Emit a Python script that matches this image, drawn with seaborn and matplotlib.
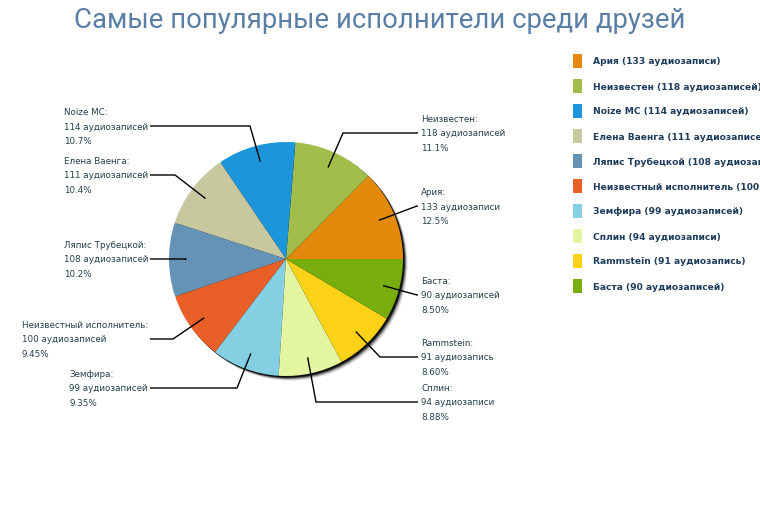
import matplotlib
matplotlib.use("Agg")
import matplotlib.pyplot as plt
from matplotlib.patches import Circle, Rectangle
import numpy as np
import seaborn as sns

sns.set_theme(style="white")
plt.rcParams['font.family'] = ['DejaVu Sans']

# ---- data ----
artists = ["Ария", "Неизвестен", "Noize MC", "Елена Ваенга", "Ляпис Трубецкой",
           "Неизвестный исполнитель", "Земфира", "Сплин", "Rammstein", "Баста"]
counts = [133, 118, 114, 111, 108, 100, 99, 94, 91, 90]
count_words = ["аудиозаписи", "аудиозаписей", "аудиозаписей", "аудиозаписей", "аудиозаписей",
               "аудиозаписей", "аудиозаписей", "аудиозаписи", "аудиозапись", "аудиозаписей"]
pct_labels = ["12.5%", "11.1%", "10.7%", "10.4%", "10.2%", "9.45%", "9.35%", "8.88%", "8.60%", "8.50%"]
colors = ["#E3890B", "#A3BD4B", "#1C95DA", "#C8C8A0", "#6593B5",
          "#E95F28", "#85CFE3", "#E3F5A1", "#FBD218", "#77AD0C"]
title = "Самые популярные исполнители среди друзей"

# ---- layout (pixel space, y measured from top) ----
W, H = 760, 510
def Y(py):
    return H - py

cx, cy, R = 286, 260, 117
label_layout = [
    ("R", 207, 417, 207, 421),   # Ария
    ("R", 134, 343, 134, 421),   # Неизвестен
    ("L", 127, 250, 127, 150),   # Noize MC
    ("L", 176, 175, 176, 150),   # Елена Ваенга
    ("L", 260, 186, 260, 150),   # Ляпис
    ("L", 340, 173, 340, 150),   # Неизвестный исполнитель
    ("L", 389, 237, 389, 150),   # Земфира
    ("R", 403, 316, 403, 421),   # Сплин
    ("R", 358, 380, 358, 421),   # Rammstein
    ("R", 296, 417, 296, 421),   # Баста
]

fig = plt.figure(figsize=(7.6, 5.1), dpi=100)
fig.patch.set_facecolor("white")
ax = fig.add_axes([0, 0, 1, 1])

# shadow (dark rim fading outwards, bottom-right)
for off, a in zip([6, 5, 4, 3, 2], [0.08, 0.14, 0.25, 0.5, 0.8]):
    ax.add_patch(Circle((cx + off * 0.8, Y(cy) - off * 0.8), R, color="black", alpha=a,
                        lw=0, zorder=1))

wedges, _ = ax.pie(counts, colors=colors, startangle=0, counterclock=True,
                   center=(cx, Y(cy)), radius=R, frame=True,
                   wedgeprops=dict(linewidth=0, antialiased=True))
for w in wedges:
    w.set_zorder(2)

txt_color = "#22404E"
for w, name, c, word, pct, lay in zip(wedges, artists, counts, count_words, pct_labels, label_layout):
    side, ty, ex, ey, tx = lay
    mid = np.deg2rad((w.theta1 + w.theta2) / 2)
    ax_ = cx + 0.86 * R * np.cos(mid)
    ay_ = Y(cy) + 0.86 * R * np.sin(mid)
    xs = [ax_, ex, tx - 3] if side == "R" else [ax_, ex, tx]
    ys = [ay_, Y(ey), Y(ey)]
    ax.plot(xs, ys, color="black", lw=1.0, zorder=3, solid_capstyle="butt")
    text = f"{name}:\n{c} {word}\n{pct}"
    if side == "R":
        ax.text(tx, Y(ty), text, ha="left", va="center", multialignment="left",
                fontsize=6.3, color=txt_color, linespacing=1.85, zorder=4)
    else:
        ax.text(tx - 2, Y(ty), text, ha="right", va="center", multialignment="left",
                fontsize=6.3, color=txt_color, linespacing=1.85, zorder=4)

# legend
leg_y0, leg_step = 62, 25
for i, (name, c, word, col) in enumerate(zip(artists, counts, count_words, colors)):
    py = leg_y0 + i * leg_step
    ax.add_patch(Rectangle((573, Y(py) - 7), 9, 14, color=col, lw=0, zorder=3))
    ax.text(593, Y(py), f"{name} ({c} {word})", ha="left", va="center",
            fontsize=6.6, fontweight="bold", color="#1E3D5C", zorder=4, clip_on=True)

# title (fit to the reference width of ~610 px)
ttl = ax.text(380, Y(21), title, ha="center", va="center", color="#5A7EA6",
              family=["Roboto", "DejaVu Sans"], fontsize=22)
ax.set_xlim(0, W)
ax.set_ylim(0, H)
ax.set_aspect("auto")
ax.axis("off")

fig.canvas.draw()
wpx = ttl.get_window_extent(fig.canvas.get_renderer()).width
ttl.set_fontsize(22 * 610.0 / wpx)

fig.savefig("out.png", dpi=100, facecolor="white")
